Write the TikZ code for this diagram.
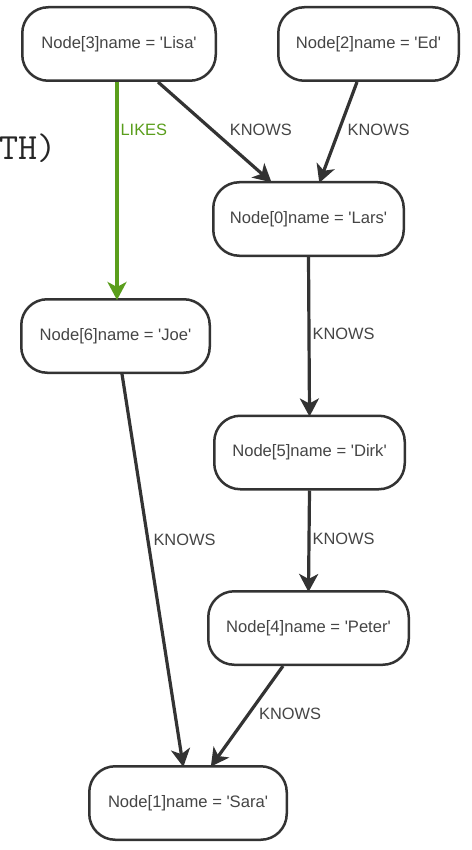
\documentclass[tikz,border=0pt]{standalone}
\usepackage{fontspec}
\usetikzlibrary{arrows.meta}
\newfontfamily\graphfont{Liberation Sans}
\definecolor{inkline}{HTML}{333333}
\definecolor{inktext}{HTML}{454545}
\definecolor{likegreen}{HTML}{5A9E1C}
\newcommand{\q}{\textquotesingle}
\tikzset{
  x=1pt, y=-1pt,
  person/.style={draw=inkline, line width=2.5pt, rounded corners=26pt,
    fill=white, text=inktext, font=\graphfont\fontsize{16.6}{18}\selectfont,
    minimum height=73.5pt, inner sep=0pt},
  headtip/.style={-{Stealth[length=18pt, width=19pt, inset=5pt]}},
  rel/.style={draw=inkline, line width=3.2pt, headtip, shorten >=-2pt},
  likes/.style={rel, draw=likegreen},
  rellabel/.style={font=\graphfont\fontsize{16.4}{18}\selectfont, text=inktext,
    inner sep=0pt, anchor=west},
}
\begin{document}
\begin{tikzpicture}
\useasboundingbox[fill=white] (0,0) rectangle (471,850);

% end of a line of query text, running off the left edge
\node[font=\ttfamily\fontsize{37}{40}\selectfont, text=black!85, anchor=base east,
  inner sep=0pt] (frag) at (57,160) {TH)};

% nodes
\node[person, minimum width=193.5pt] (lisa)  at (119,44)    {Node[3]name = \q Lisa\q};
\node[person, minimum width=180.5pt] (ed)    at (368.5,44)  {Node[2]name = \q Ed\q};
\node[person, minimum width=190.5pt] (lars)  at (308.5,219) {Node[0]name = \q Lars\q};
\node[person, minimum width=188.5pt] (joe)   at (115.5,336) {Node[6]name = \q Joe\q};
\node[person, minimum width=190.5pt] (dirk)  at (309.5,452.5) {Node[5]name = \q Dirk\q};
\node[person, minimum width=200.5pt] (peter) at (308.5,628) {Node[4]name = \q Peter\q};
\node[person, minimum width=197.5pt] (sara)  at (188,803)   {Node[1]name = \q Sara\q};

% relationships
\draw[likes] ([xshift=-2pt]lisa.south) -- ([xshift=1.5pt]joe.north)
  node[rellabel, pos=0.222, xshift=2pt, text=likegreen] {LIKES};
\draw[rel] ([xshift=39pt]lisa.south) -- ([xshift=-38.5pt]lars.north)
  node[rellabel, pos=0.485, xshift=16pt] {KNOWS};
\draw[rel] ([xshift=-11.5pt]ed.south) -- ([xshift=11.5pt]lars.north)
  node[rellabel, pos=0.485, xshift=7pt] {KNOWS};
\draw[rel] (lars.south) -- (dirk.north)
  node[rellabel, pos=0.487, xshift=2pt] {KNOWS};
\draw[rel] ([xshift=6.5pt]joe.south) -- ([xshift=-5pt]sara.north)
  node[rellabel, pos=0.425, xshift=4pt] {KNOWS};
\draw[rel] (dirk.south) -- (peter.north)
  node[rellabel, pos=0.49, xshift=2pt] {KNOWS};
\draw[rel] ([xshift=-25.5pt]peter.south) -- ([xshift=24pt]sara.north)
  node[rellabel, pos=0.485, xshift=9pt] {KNOWS};
\end{tikzpicture}
\end{document}
